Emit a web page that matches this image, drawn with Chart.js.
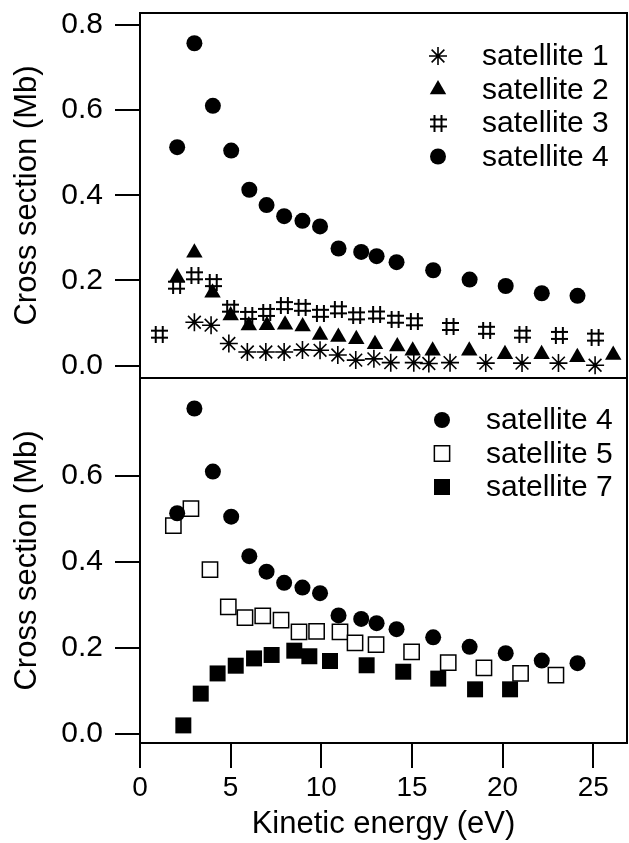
<!DOCTYPE html>
<html><head><meta charset="utf-8">
<script src="https://cdn.jsdelivr.net/npm/chart.js@4/dist/chart.umd.min.js"></script>
<style>
html,body{margin:0;padding:0;background:#fff;width:629px;height:843px;overflow:hidden}
canvas{position:absolute;left:0}
#cTop{top:0}
#cBot{top:360px}
</style></head><body>
<canvas id="cTop" width="629" height="400"></canvas>
<canvas id="cBot" width="629" height="483"></canvas>
<script>
// ---------- data ----------
const xTicks = [0, 5, 10, 15, 20, 25];
const xTickLabels = ['0', '5', '10', '15', '20', '25'];
const yTicksTop = [0, 0.2, 0.4, 0.6, 0.8];
const yTickLabelsTop = ['0.0', '0.2', '0.4', '0.6', '0.8'];
const yTicksBottom = [0, 0.2, 0.4, 0.6];
const yTickLabelsBottom = ['0.0', '0.2', '0.4', '0.6'];

const sat1X = [3.0, 3.92, 4.9, 5.92, 6.94, 7.95, 8.96, 9.93, 10.91, 11.9, 12.9, 13.83, 15.1, 15.93, 17.1, 19.07, 21.07, 23.08, 25.1];
const sat1Y = [0.102, 0.095, 0.052, 0.032, 0.032, 0.032, 0.037, 0.036, 0.025, 0.013, 0.016, 0.007, 0.007, 0.005, 0.007, 0.006, 0.006, 0.006, 0.001];

const sat2X = [2.05, 3.0, 4.0, 5.0, 6.0, 7.0, 8.0, 8.97, 9.93, 10.94, 11.93, 12.96, 14.19, 15.04, 16.14, 18.16, 20.13, 22.15, 24.12, 26.1];
const sat2Y = [0.207, 0.265, 0.171, 0.118, 0.094, 0.095, 0.096, 0.092, 0.072, 0.067, 0.062, 0.05, 0.045, 0.035, 0.035, 0.035, 0.027, 0.027, 0.02, 0.025];

const sat3X = [1.06, 2.02, 3.03, 4.04, 5.0, 6.0, 6.99, 7.96, 8.94, 9.95, 10.94, 11.95, 13.05, 14.07, 15.13, 17.1, 19.12, 21.12, 23.13, 25.1];
const sat3Y = [0.074, 0.189, 0.211, 0.195, 0.135, 0.118, 0.125, 0.141, 0.137, 0.123, 0.131, 0.117, 0.119, 0.109, 0.103, 0.092, 0.083, 0.074, 0.071, 0.067];

const sat4X = [2.05, 3.0, 4.02, 5.03, 6.03, 6.98, 7.95, 8.96, 9.93, 10.95, 12.2, 13.05, 14.15, 16.17, 18.18, 20.17, 22.16, 24.13];
const sat4Y = [0.513, 0.757, 0.61, 0.505, 0.413, 0.377, 0.351, 0.34, 0.327, 0.275, 0.267, 0.257, 0.243, 0.224, 0.202, 0.187, 0.17, 0.164];

const sat5X = [1.84, 2.81, 3.86, 4.87, 5.79, 6.77, 7.78, 8.77, 9.74, 11.03, 11.86, 13.02, 14.98, 17.0, 18.97, 20.99, 22.94];
const sat5Y = [0.484, 0.524, 0.382, 0.295, 0.27, 0.274, 0.264, 0.237, 0.238, 0.237, 0.211, 0.207, 0.19, 0.165, 0.153, 0.14, 0.136];

const sat7X = [2.39, 3.35, 4.28, 5.28, 6.29, 7.26, 8.51, 9.34, 10.48, 12.5, 14.52, 16.45, 18.48, 20.41];
const sat7Y = [0.019, 0.093, 0.14, 0.158, 0.175, 0.183, 0.193, 0.18, 0.169, 0.159, 0.144, 0.128, 0.103, 0.103];

const labelsTop = ['satellite 1', 'satellite 2', 'satellite 3', 'satellite 4'];
const labelsBottom = ['satellite 4', 'satellite 5', 'satellite 7'];

// ---------- helpers ----------
const FONT = "'Liberation Sans', Arial, Helvetica, sans-serif";
const pts = (xs, ys) => xs.map((x, i) => ({x: x, y: ys[i]}));

function makeHash() {
  const c = document.createElement('canvas');
  c.width = 17; c.height = 17;
  const g = c.getContext('2d');
  g.fillStyle = '#000';
  g.fillRect(4, 0, 2, 17);
  g.fillRect(11, 0, 2, 17);
  g.fillRect(0, 4, 17, 2);
  g.fillRect(0, 11, 17, 2);
  return c;
}
const hashImg = makeHash();

const styles = {
  s1: {pointStyle: 'star', pointRadius: 9, pointBorderWidth: 1.6, pointBackgroundColor: '#000', pointBorderColor: '#000'},
  s2: {pointStyle: 'triangle', pointRadius: 9.5, pointBorderWidth: 0, pointBackgroundColor: '#000', pointBorderColor: '#000'},
  s3: {pointStyle: hashImg, pointRadius: 8.5, pointBorderWidth: 0, pointBackgroundColor: '#000', pointBorderColor: '#000'},
  s4: {pointStyle: 'circle', pointRadius: 8, pointBorderWidth: 0, pointBackgroundColor: '#000', pointBorderColor: '#000'},
  s5: {pointStyle: 'rect', pointRadius: 10.8, pointBorderWidth: 1.5, pointBackgroundColor: '#fff', pointBorderColor: '#000'},
  s7: {pointStyle: 'rect', pointRadius: 11.3, pointBorderWidth: 0, pointBackgroundColor: '#000', pointBorderColor: '#000'}
};

function ds(label, data, st) {
  return Object.assign({label: label, data: data, showLine: false, clip: false}, st);
}

const framePlugin = {
  id: 'frame',
  afterDraw(chart) {
    const a = chart.chartArea, ctx = chart.ctx;
    ctx.save();
    ctx.strokeStyle = '#000'; ctx.lineWidth = 2;
    ctx.beginPath();
    ctx.moveTo(a.left, a.top); ctx.lineTo(a.right, a.top);
    ctx.lineTo(a.right, a.bottom); ctx.lineTo(a.left, a.bottom);
    ctx.stroke();
    // outward x tick marks, placed by the library's x scale
    const xs = chart.scales.x;
    if (xs && xs.options.display !== false) {
      ctx.fillStyle = '#000';
      xs.ticks.forEach(t => {
        const px = Math.round(xs.getPixelForValue(t.value));
        ctx.fillRect(px - 1, a.bottom, 2, 25);
      });
    }
    ctx.restore();
  }
};

const legendPlugin = {
  id: 'customLegend',
  afterDraw(chart, args, opts) {
    const ctx = chart.ctx;
    ctx.save();
    ctx.font = '30px ' + FONT;
    ctx.textBaseline = 'middle';
    ctx.textAlign = 'left';
    opts.items.forEach((it, i) => {
      const y = opts.y0 + i * opts.dy;
      const st = it.style;
      ctx.fillStyle = st.pointBackgroundColor;
      ctx.strokeStyle = st.pointBorderColor;
      ctx.lineWidth = st.pointBorderWidth;
      Chart.helpers.drawPoint(ctx, {pointStyle: st.pointStyle, radius: it.r, rotation: 0, borderWidth: st.pointBorderWidth}, opts.mx, y);
      ctx.fillStyle = '#000';
      ctx.fillText(it.label, opts.tx, y + 1);
    });
    ctx.restore();
  }
};

function yAxis(ticks, labels, min, max) {
  return {
    type: 'linear', min: min, max: max,
    afterBuildTicks: s => { s.ticks = ticks.map(v => ({value: v})); },
    afterFit: s => { s.width = 140; s.paddingTop = 0; s.paddingBottom = 0; },
    border: {display: true, color: '#000', width: 2},
    grid: {drawOnChartArea: false, drawTicks: true, tickLength: 25, tickWidth: 2, color: '#000', lineWidth: 2},
    ticks: {color: '#000', padding: 12, font: {family: FONT, size: 30},
      callback: v => { const i = ticks.indexOf(v); return i >= 0 ? labels[i] : ''; }},
    title: {display: true, text: 'Cross section (Mb)', color: '#000', font: {family: FONT, size: 31}, padding: {top: 9, bottom: 0}}
  };
}

Chart.defaults.animation = false;

new Chart(document.getElementById('cTop'), {
  type: 'scatter',
  data: {datasets: [
    ds(labelsTop[3], pts(sat4X, sat4Y), styles.s4),
    ds(labelsTop[1], pts(sat2X, sat2Y), styles.s2),
    ds(labelsTop[0], pts(sat1X, sat1Y), styles.s1),
    ds(labelsTop[2], pts(sat3X, sat3Y), styles.s3)
  ]},
  options: {
    responsive: false, events: [],
    layout: {autoPadding: false, padding: {top: 13, right: 2, bottom: 22, left: 0}},
    plugins: {
      legend: {display: false}, tooltip: {enabled: false},
      customLegend: {mx: 438, tx: 482, y0: 56, dy: 33.5, items: [
        {label: labelsTop[0], style: styles.s1, r: 9},
        {label: labelsTop[1], style: styles.s2, r: 9.5},
        {label: labelsTop[2], style: styles.s3, r: 8.5},
        {label: labelsTop[3], style: styles.s4, r: 8}
      ]}
    },
    scales: {
      x: {type: 'linear', min: 0, max: 26.86, display: false},
      y: yAxis(yTicksTop, yTickLabelsTop, -0.029, 0.828)
    }
  },
  plugins: [framePlugin, legendPlugin]
});

new Chart(document.getElementById('cBot'), {
  type: 'scatter',
  data: {datasets: [
    ds(labelsBottom[0], pts(sat4X, sat4Y), styles.s4),
    ds(labelsBottom[1], pts(sat5X, sat5Y), styles.s5),
    ds(labelsBottom[2], pts(sat7X, sat7Y), styles.s7)
  ]},
  options: {
    responsive: false, events: [],
    layout: {autoPadding: false, padding: {top: 18, right: 2, bottom: 0, left: 0}},
    plugins: {
      legend: {display: false}, tooltip: {enabled: false},
      customLegend: {mx: 442, tx: 486, y0: 60, dy: 33.5, items: [
        {label: labelsBottom[0], style: styles.s4, r: 8},
        {label: labelsBottom[1], style: styles.s5, r: 10.8},
        {label: labelsBottom[2], style: styles.s7, r: 11.3}
      ]}
    },
    scales: {
      x: {
        type: 'linear', min: 0, max: 26.86,
        afterBuildTicks: s => { s.ticks = xTicks.map(v => ({value: v})); },
        afterFit: s => { s.height = 100; s.paddingLeft = 0; s.paddingRight = 0; },
        border: {display: true, color: '#000', width: 2},
        grid: {drawOnChartArea: false, drawTicks: true, tickLength: 25, tickWidth: 2, color: '#000', lineWidth: 2},
        ticks: {color: '#000', padding: 3, maxRotation: 0, font: {family: FONT, size: 28},
          callback: v => { const i = xTicks.indexOf(v); return i >= 0 ? xTickLabels[i] : ''; }},
        title: {display: true, text: 'Kinetic energy (eV)', color: '#000', font: {family: FONT, size: 31}, padding: {top: 0, bottom: 0}}
      },
      y: yAxis(yTicksBottom, yTickLabelsBottom, -0.022, 0.828)
    }
  },
  plugins: [framePlugin, legendPlugin]
});
</script>
</body></html>
